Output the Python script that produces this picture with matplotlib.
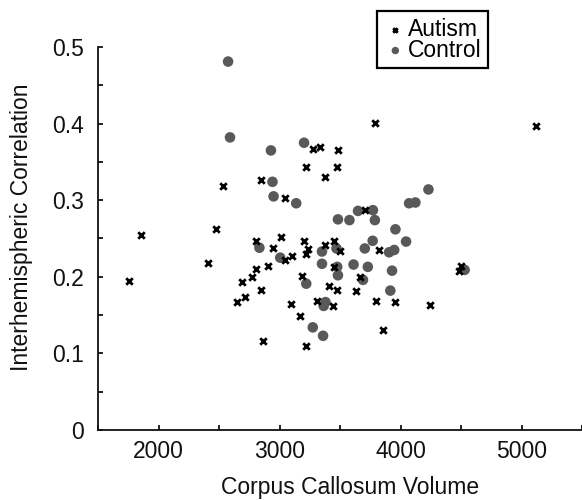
import matplotlib
matplotlib.use("Agg")
import matplotlib.pyplot as plt
from matplotlib.ticker import MultipleLocator

plt.rcParams['font.family'] = ['Liberation Sans', 'DejaVu Sans']

# ---- data ----
autism_x = [1760, 1858, 2409, 2477, 2535, 2649, 2692, 2714, 2769, 2806,
            2809, 2846, 2846, 2862, 2905, 2945, 3012, 3043, 3049, 3105,
            3098, 3166, 3185, 3206, 3218, 3218, 3237, 3222, 3277, 3335,
            3314, 3372, 3375, 3409, 3452, 3449, 3446, 3480, 3477, 3477,
            3502, 3631, 3662, 3708, 3788, 3797, 3825, 3858, 3954, 4243,
            4480, 4498, 5117]
autism_y = [0.194, 0.255, 0.218, 0.263, 0.319, 0.167, 0.193, 0.173, 0.200, 0.210,
            0.247, 0.326, 0.183, 0.116, 0.214, 0.238, 0.252, 0.303, 0.222, 0.227,
            0.164, 0.149, 0.201, 0.247, 0.343, 0.230, 0.236, 0.110, 0.367, 0.369,
            0.169, 0.330, 0.241, 0.188, 0.247, 0.213, 0.162, 0.366, 0.343, 0.183,
            0.234, 0.181, 0.200, 0.287, 0.401, 0.169, 0.235, 0.131, 0.167, 0.163,
            0.207, 0.214, 0.397]

control_x = [2575, 2591, 2929, 2942, 2951, 3138, 3203, 2834, 3006, 3221,
             3351, 3351, 3471, 3477, 3483, 3380, 3365, 3275, 3360, 3483,
             3578, 3649, 3772, 3788, 3612, 3705, 3730, 3690, 3770, 3906,
             3948, 3958, 3930, 3916, 4046, 4071, 4123, 4231, 4530]
control_y = [0.481, 0.382, 0.365, 0.324, 0.305, 0.296, 0.375, 0.238, 0.225, 0.191,
             0.233, 0.217, 0.237, 0.213, 0.202, 0.167, 0.162, 0.134, 0.123, 0.275,
             0.274, 0.286, 0.287, 0.274, 0.216, 0.237, 0.213, 0.196, 0.247, 0.232,
             0.235, 0.262, 0.208, 0.182, 0.246, 0.296, 0.297, 0.314, 0.209]

series_labels = ["Autism", "Control"]
x_label = "Corpus Callosum Volume"
y_label = "Interhemispheric Correlation"

# ---- figure ----
W, H = 582, 500
FS = 16.5
fig = plt.figure(figsize=(W / 100, H / 100), dpi=100)
ax = fig.add_axes([98 / W, 70 / H, (W - 98) / W, (430 - 47) / H])

hc = ax.scatter(control_x, control_y, s=58, marker='o', color='#595959',
                edgecolors='none', zorder=2, label=series_labels[1])
ha = ax.scatter(autism_x, autism_y, s=22, marker='x', color='black',
                linewidths=2.0, zorder=3, label=series_labels[0])

ax.set_xlim(1500, 5500)
ax.set_ylim(0, 0.5)
ax.xaxis.set_minor_locator(MultipleLocator(500))
ax.yaxis.set_minor_locator(MultipleLocator(0.05))
ax.set_xticks([2000, 3000, 4000, 5000])
ax.set_xticklabels(['2000', '3000', '4000', '5000'])
ax.set_yticks([0, 0.1, 0.2, 0.3, 0.4, 0.5])
ax.set_yticklabels(['0', '0.1', '0.2', '0.3', '0.4', '0.5'])

for s in ['top', 'right']:
    ax.spines[s].set_visible(False)
for s in ['left', 'bottom']:
    ax.spines[s].set_linewidth(1.3)
    ax.spines[s].set_color('#111111')

ax.tick_params(which='both', direction='in', length=3.5, width=1.3, color='#111111')
ax.tick_params(axis='x', which='major', labelsize=FS, pad=7, labelcolor='#111111')
ax.tick_params(axis='y', which='major', labelsize=FS, pad=10, labelcolor='#111111')

ax.set_xlabel(x_label, fontsize=FS, color='#111111')
ax.set_ylabel(y_label, fontsize=FS, color='#111111')
ax.xaxis.set_label_coords((350 - 98) / 484, (430 - 476) / 383)
ax.yaxis.set_label_coords((33 - 98) / 484, (430 - 227) / 383)

leg = ax.legend(handles=[ha, hc], labels=series_labels, loc='upper left',
                bbox_to_anchor=(377 / W, 1 - 11 / H), bbox_transform=fig.transFigure,
                borderaxespad=0, fontsize=FS, markerscale=0.7, handlelength=1.0,
                handletextpad=0.05, borderpad=0.3, labelspacing=-0.1,
                fancybox=False, frameon=True, framealpha=1)
leg.get_frame().set_edgecolor('black')
leg.get_frame().set_linewidth(1.6)

fig.savefig('out.png', dpi=100)
